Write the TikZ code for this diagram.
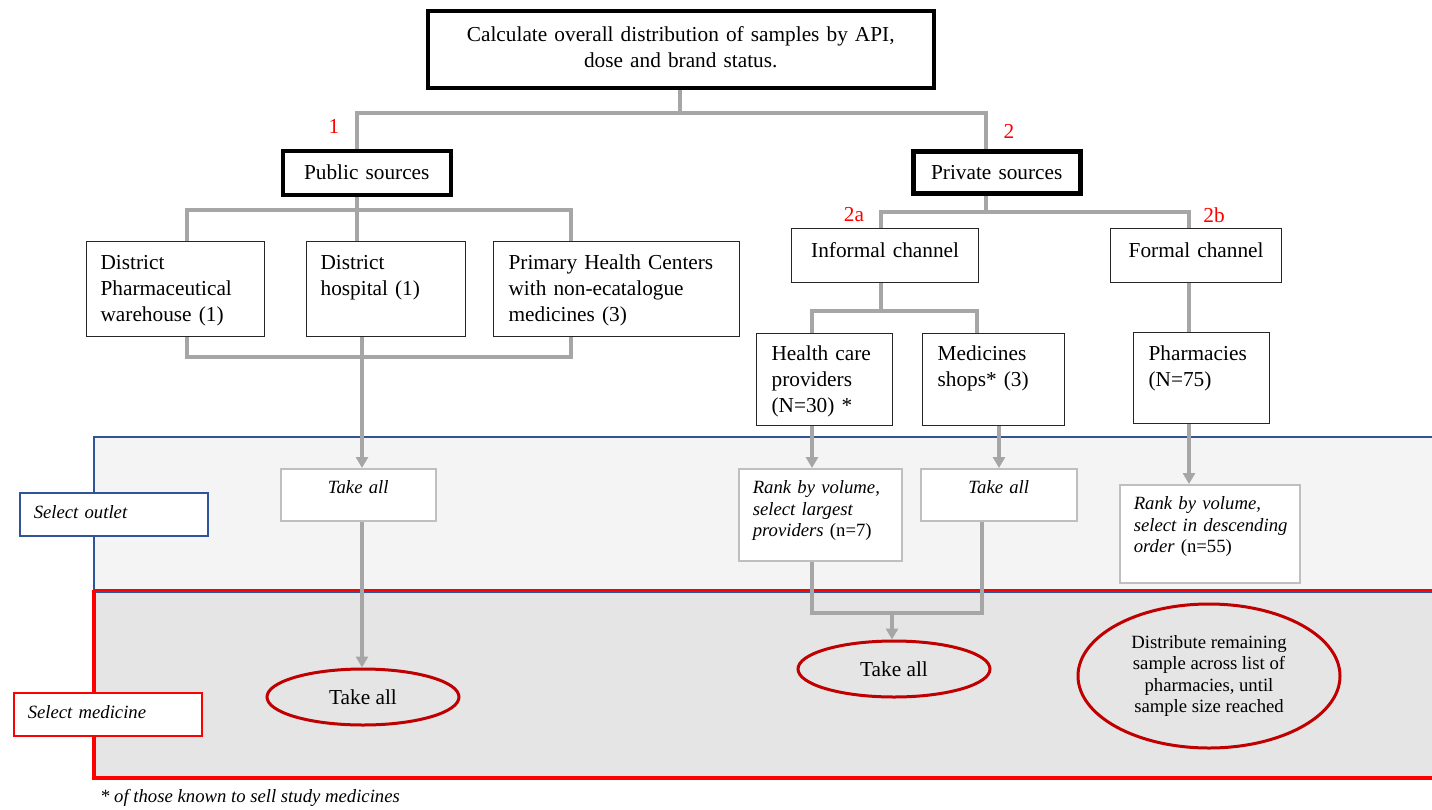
\documentclass[tikz,border=0pt]{standalone}
\usepackage{fontspec}
\setmainfont{Liberation Serif}
\usetikzlibrary{arrows.meta,shapes.geometric}
\definecolor{LinkClr}{HTML}{A6A6A6}
\definecolor{OutletClr}{HTML}{2F5597}
\definecolor{OutletFill}{HTML}{F4F4F4}
\definecolor{MedClr}{HTML}{FF0000}
\definecolor{MedFill}{HTML}{E5E5E5}
\definecolor{OvalClr}{HTML}{C00000}
\definecolor{StepClr}{HTML}{BFBFBF}
\newcommand{\bigtxt}{\fontsize{21.3}{26}\selectfont}
\newcommand{\smalltxt}{\fontsize{18.7}{21.5}\selectfont}

\begin{document}
\begin{tikzpicture}[x=1pt,y=-1pt,
  link/.style={draw=LinkClr,line width=3.5pt},
  arr/.style={link,-{Triangle[length=11pt,width=12pt]}},
  card/.style={draw=black!85,line width=1.2pt,fill=white,anchor=north west,
    inner ysep=0pt,align=left,font=\bigtxt},
  srcbox/.style={card,draw=black,line width=4.5pt,inner xsep=0pt,align=center},
  stepbox/.style={card,draw=StepClr,line width=1.5pt,font=\smalltxt\itshape},
  oval/.style={ellipse,draw=OvalClr,line width=3pt,inner sep=0pt,align=center},
  num/.style={text=MedClr,font=\bigtxt,inner sep=0pt}]
\useasboundingbox (0,0) rectangle (1432,809);

% bands
\fill[OutletFill] (94,437) rectangle (1440,592);
\fill[MedFill] (94,591) rectangle (1440,778);
\draw[OutletClr,line width=2pt] (94,437) rectangle (1440,592);
\draw[MedClr,line width=1.5pt] (94,590) -- (1440,590);
\draw[MedClr,line width=3.5pt] (1440,778) -- (94,778) -- (94,590);

\node[card,line width=3.5pt,draw=black,inner xsep=0pt,align=center,text width=506pt,
  text height=30.5pt,text depth=46.5pt] (calc) at (426,9)
  {Calculate overall distribution of samples by API,\\ dose and brand status.};

\node[srcbox,text width=168pt,text height=29pt,text depth=15pt] (pub) at (280.5,148.5) {Public sources};
\node[srcbox,text width=167pt,text height=28.5pt,text depth=13.5pt] (priv) at (911,149) {Private sources};

\node[card,inner xsep=14pt,text width=150pt,text height=28pt,text depth=67pt] (dpw) at (86,241)
  {District\\ Pharmaceutical\\ warehouse (1)};
\node[card,inner xsep=14pt,text width=131pt,text height=28pt,text depth=67pt] (dh) at (306,241)
  {District\\ hospital (1)};
\node[card,inner xsep=15pt,text width=216pt,text height=28pt,text depth=67pt] (phc) at (493,241)
  {Primary Health Centers\\ with non-ecatalogue\\ medicines (3)};

\node[card,inner xsep=0pt,align=center,text width=187pt,text height=29pt,text depth=25pt] (inf) at (791,228)
  {Informal channel};
\node[card,inner xsep=0pt,align=center,text width=171pt,text height=29pt,text depth=25pt] (frm) at (1110,228)
  {Formal channel};

\node[card,inner xsep=15pt,text width=106pt,text height=27pt,text depth=65pt] (hcp) at (756,333)
  {Health care\\ providers\\ (N=30) *};
\node[card,inner xsep=15pt,text width=112pt,text height=27pt,text depth=65pt] (msh) at (922,333)
  {Medicines\\ shops* (3)};
\node[card,inner xsep=15pt,text width=106pt,text height=28pt,text depth=63pt] (phar) at (1133,332)
  {Pharmacies\\ (N=75)};

\node[stepbox,inner xsep=0pt,align=center,text width=155pt,text height=25pt,text depth=27pt] (ta1) at (280,468)
  {Take all};
\node[stepbox,inner xsep=14pt,text width=135pt,text height=25pt,text depth=67pt] (rk1) at (738,468)
  {Rank by volume,\\ select largest\\ providers {\upshape(n=7)}};
\node[stepbox,inner xsep=0pt,align=center,text width=156pt,text height=25pt,text depth=27pt] (ta2) at (920,468)
  {Take all};
\node[stepbox,inner xsep=14pt,text width=152pt,text height=25pt,text depth=73pt] (rk3) at (1119,484)
  {Rank by volume,\\ \mbox{select in descending}\\ order {\upshape(n=55)}};

\node[stepbox,draw=OutletClr,inner xsep=14pt,text width=160pt,text height=26pt,text depth=17pt] (selo) at (19,492)
  {Select outlet};
\node[stepbox,draw=MedClr,inner xsep=14pt,text width=160pt,text height=26pt,text depth=17pt] (selm) at (13,692)
  {Select medicine};

\node[oval,minimum width=192pt,minimum height=56pt,font=\bigtxt] (ell1) at (363,697) {Take all};
\node[oval,minimum width=192pt,minimum height=56pt,font=\bigtxt] (ell2) at (894,669) {Take all};
\node[oval,minimum width=262pt,minimum height=144pt,font=\smalltxt] (ell3) at (1209,676)
  {Distribute remaining\\ sample across list of\\ pharmacies, until\\ sample size reached};

\node[num] (n1) at (334,126) {1};
\node[num] (n2) at (1009,131) {2};
\node[num] (n2a) at (854,215) {2a};
\node[num] (n2b) at (1214,215) {2b};

\node[anchor=base west,font=\smalltxt\itshape,inner sep=0pt] (note) at (100,802)
  {* of those known to sell study medicines};

% tree
\coordinate (j1) at (680,113);
\coordinate (j2) at (357,210);
\coordinate (j3) at (986,212);
\coordinate (j4) at (881,311);
\draw[link] (calc.south -| j1) -- (j1);
\draw[link] (pub.north -| 357,0) |- (j1) -| (priv.north -| 986,0);
\draw[link] (pub.south -| j2) -- (dh.north -| j2);
\draw[link] (dpw.north -| 187,0) |- (j2) -| (phc.north -| 571,0);
\draw[link] (dpw.south -| 187,0) |- (362,357) -| (phc.south -| 571,0);
\draw[link] (priv.south -| j3) -- (j3);
\draw[link] (inf.north -| 881,0) |- (j3) -| (frm.north -| 1189,0);
\draw[link] (inf.south -| j4) -- (j4);
\draw[link] (hcp.north -| 812,0) |- (j4) -| (msh.north -| 977,0);
\draw[link] (frm.south -| 1189,0) -- (phar.north -| 1189,0);

% arrows
\draw[arr] (dh.south -| 362,0) -- (ta1.north -| 362,0);
\draw[arr] (ta1.south -| 362,0) -- (ell1.north -| 362,0);
\draw[arr] (hcp.south -| 812,0) -- (rk1.north -| 812,0);
\draw[arr] (msh.south -| 999,0) -- (ta2.north -| 999,0);
\draw[arr] (phar.south -| 1189,0) -- (rk3.north -| 1189,0);
\draw[link] (rk1.south -| 812,0) |- (982,613) -- (ta2.south -| 982,0);
\draw[arr] (892,613) -- (ell2.north -| 892,0);
\end{tikzpicture}
\end{document}
